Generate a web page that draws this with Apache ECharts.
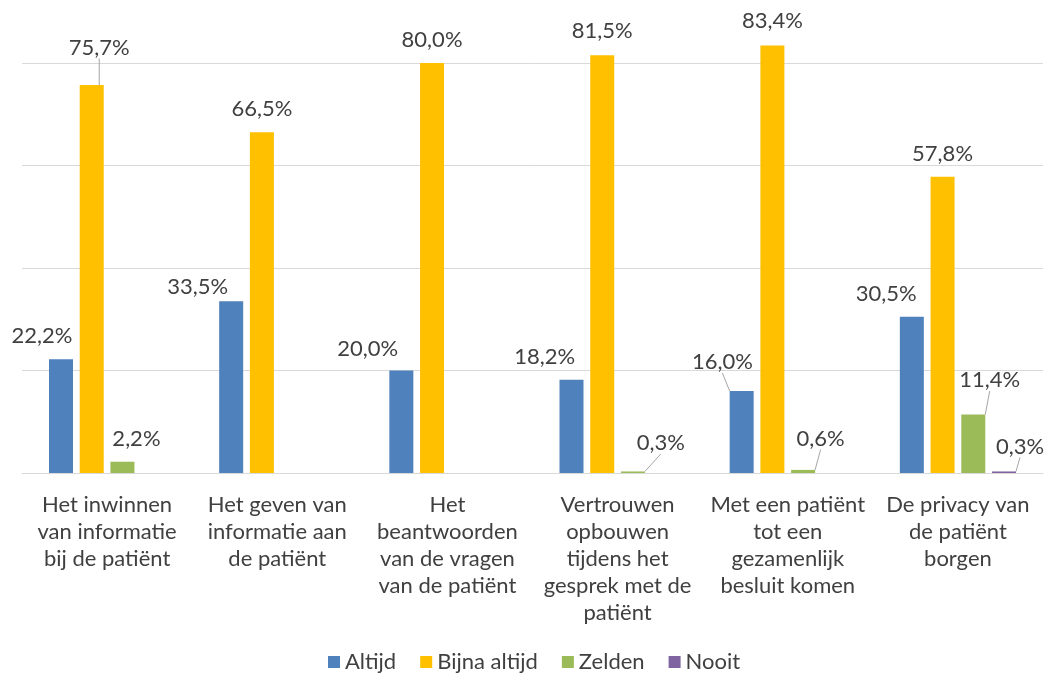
<!DOCTYPE html>
<html>
<head>
<meta charset="utf-8">
<script src="https://cdn.jsdelivr.net/npm/echarts@6/dist/echarts.min.js"></script>
<style>
html,body{margin:0;padding:0;background:#ffffff;}
#chart{width:1048px;height:673px;}
</style>
</head>
<body>
<div id="chart"></div>
<script>
// ---- data ----
const categories = [
  "Het inwinnen\nvan informatie\nbij de patiënt",
  "Het geven van\ninformatie aan\nde patiënt",
  "Het\nbeantwoorden\nvan de vragen\nvan de patiënt",
  "Vertrouwen\nopbouwen\ntijdens het\ngesprek met de\npatiënt",
  "Met een patiënt\ntot een\ngezamenlijk\nbesluit komen",
  "De privacy van\nde patiënt\nborgen"
];
const seriesNames = ["Altijd", "Bijna altijd", "Zelden", "Nooit"];
const altijd      = [22.2, 33.5, 20.0, 18.2, 16.0, 30.5];
const bijnaAltijd = [75.7, 66.5, 80.0, 81.5, 83.4, 57.8];
const zelden      = [2.2, null, null, 0.3, 0.6, 11.4];
const nooit       = [null, null, null, null, null, 0.3];
const yTicks      = [0, 20, 40, 60, 80];

// ---- styling ----
const colors = ["#4F81BD", "#FFC000", "#9BBB59", "#8064A2"];
const FONT = "Lato";
const TEXT = "#404040";
// label nudges [dx, dy] relative to default label spot, and leader-line flags
const labelNudges = [
  [[-19, 0], [-33.5, 9], [-33.6, 1], [-26.7, 0], [-19.3, -6], [-25.7, 0]],
  [[7.5, -14.5], [0, 0], [0, 0], [0, -1.3], [0, -1.2], [0, 0]],
  [[14, 0], null, null, [27.8, -5.5], [17.5, -8.5], [16.4, -11.5]],
  [null, null, null, null, null, [16, -2]]
];
const leaderLines = [
  [false, false, false, false, true, false],
  [true, false, false, false, false, false],
  [false, false, false, true, true, true],
  [false, false, false, false, false, true]
];

const seriesData = [altijd, bijnaAltijd, zelden, nooit];

function fmt(v) { return v.toFixed(1).replace(".", ",") + "%"; }

const chart = echarts.init(document.getElementById("chart"), null, { renderer: "canvas" });

const series = seriesNames.map((name, si) => ({
  name: name,
  type: "bar",
  barWidth: 24,
  barGap: "28%",
  clip: false,
  itemStyle: { color: colors[si] },
  label: {
    show: true,
    position: "top",
    distance: 12,
    fontFamily: FONT,
    fontSize: 22,
    color: TEXT,
    formatter: p => (p.value == null ? "" : fmt(p.value))
  },
  labelLine: { show: false, lineStyle: { color: "#A6A6A6", width: 1 } },
  labelLayout: function (params) {
    const n = labelNudges[si][params.dataIndex];
    return n ? { dx: n[0], dy: n[1] } : {};
  },
  data: seriesData[si].map((v, i) => ({
    value: v,
    labelLine: { show: leaderLines[si][i], lineStyle: { color: "#A6A6A6", width: 1 } }
  }))
}));

chart.setOption({
  animation: false,
  backgroundColor: "#ffffff",
  textStyle: { fontFamily: FONT },
  grid: { left: 22, right: 5, top: 63, bottom: 200, containLabel: false },
  legend: {
    data: seriesNames,
    left: 328,
    top: 651,
    padding: 0,
    icon: "rect",
    itemWidth: 12,
    itemHeight: 12,
    itemGap: 24,
    textStyle: { fontFamily: FONT, fontSize: 22, color: TEXT }
  },
  xAxis: {
    type: "category",
    data: categories,
    axisLine: { show: true, lineStyle: { color: "#D9D9D9", width: 1 } },
    axisTick: { show: false },
    axisLabel: {
      interval: 0,
      margin: 18,
      fontFamily: FONT,
      fontSize: 22,
      lineHeight: 27,
      color: TEXT,
      align: "center"
    }
  },
  yAxis: {
    type: "value",
    min: yTicks[0],
    max: yTicks[yTicks.length - 1],
    interval: yTicks[1] - yTicks[0],
    axisLine: { show: false },
    axisTick: { show: false },
    axisLabel: { show: false },
    splitLine: { show: true, lineStyle: { color: "#D9D9D9", width: 1 } }
  },
  series: series
});
</script>
</body>
</html>
